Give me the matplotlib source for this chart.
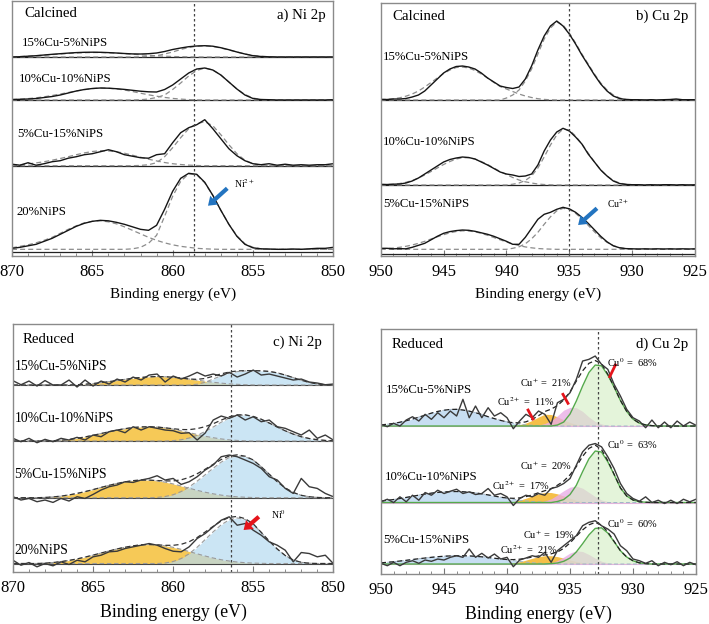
import matplotlib
matplotlib.use("Agg")
import matplotlib.pyplot as plt
import numpy as np
from matplotlib.ticker import MultipleLocator

plt.rcParams['font.family'] = ['Liberation Serif', 'DejaVu Serif']
plt.rcParams['mathtext.fontset'] = 'stix'

# energy grids, 0.5 eV steps from high to low binding energy
E_NI = np.arange(870, 849.9, -0.5)
E_CU = np.arange(950, 924.9, -0.5)

samples4 = ["15%Cu-5%NiPS", "10%Cu-10%NiPS", "5%Cu-15%NiPS", "20%NiPS"]
samples3 = ["15%Cu-5%NiPS", "10%Cu-10%NiPS", "5%Cu-15%NiPS"]

# ---- a) Ni 2p calcined: measured spectra (height above baseline) ----
a_exp1 = [0, 0.3, 0.8, 1.3, 2, 2.7, 3.3, 3.9, 4.4, 4.7,
          4.8, 4.7, 4.4, 4, 3.5, 3.1, 3, 3.3, 4, 5.5,
          7.5, 9, 10.3, 11, 11.3, 10.8, 9.3, 7.3, 5, 3,
          1.3, 0.5, 0.2, 0, 0, 0, 0, 0, 0, 0, 0]
a_exp2 = [0.5, 0.7, 1, 1.5, 2.5, 3.5, 5, 7, 9, 10.5,
          11.5, 12, 11.8, 11.3, 10.6, 9.7, 8.8, 8.2, 8, 10.5,
          15, 21, 27, 31, 32, 30, 25, 18, 11, 5,
          1.5, 0.5, 0.3, 0, 0, 0, 0, 0, 0, 0, 0.3]
a_exp3 = [1.5, 0.5, 3, 0.5, 2, 4, 5, 7.5, 9, 11,
          12, 14, 16, 14, 11, 9.5, 8, 7.5, 11, 12,
          23, 33, 38, 41, 46, 37, 27, 17, 10, 5,
          2, 1, 2, 0.5, 1.5, 0.5, 1, 0.5, 1, 1, 2]
a_exp4 = [1, 2, 3.5, 5, 8, 11, 15, 19, 23, 26,
          28, 29, 28.5, 27, 25, 22.5, 20, 19, 24, 40,
          58, 71, 76, 75, 67, 54, 39, 25, 13, 5,
          1.5, 0.5, 0.3, 0, 0, 0.3, 0, 0.5, 1, 1, 2]
# fitted components: (start energy, values)
a_sat1 = (870, [0.2, 0.5, 0.8, 1.3, 1.8, 2.4, 3, 3.5, 4, 4.3, 4.5, 4.5, 4.2, 3.8,
                3.3, 2.8, 2.2, 1.7, 1.2, 0.8, 0.5, 0.3, 0.1])
a_main1 = (862, [0.2, 0.6, 1.3, 3, 5, 7.5, 9.5, 10.8, 11.2, 10.5, 9, 7, 5, 3, 1.6, 0.7, 0.3])
a_sat2 = (870, [0.4, 0.8, 1.4, 2.2, 3.2, 4.5, 6, 7.5, 9, 10.3, 11.4, 12, 11.8, 11.1,
                10, 8.5, 6.8, 5.2, 3.8, 2.6, 1.6, 0.9, 0.4, 0.1])
a_main2 = (862, [0.3, 1, 2.5, 5, 10.5, 17, 24, 29.5, 32, 30, 25, 18, 11, 5.5, 2, 0.5])
a_sat3 = (870, [0.5, 1, 1.8, 2.8, 4, 5.5, 7.2, 9, 11, 12.8, 14.2, 15, 14.8, 14,
                12.5, 10.5, 8.5, 6.5, 4.8, 3.2, 2, 1.2, 0.6, 0.2])
a_main3 = (862, [0.3, 1, 3, 9, 18, 28, 37, 42, 44, 40, 31, 21, 12, 5.5, 2, 0.5])
a_sat4 = (870, [1.5, 3, 4.5, 6.5, 9, 12, 16, 20, 23.5, 26.5, 28, 28.5, 27.5, 25.5,
                22.5, 19, 15.5, 12, 9, 6.5, 4.5, 3, 2, 1, 0.5, 0.2])
a_main4 = (862.5, [0.5, 2, 6, 14, 33, 53, 68, 75.5, 74.5, 66.5, 54, 39, 25, 13.5, 5.5, 2, 0.5])

# ---- b) Cu 2p calcined ----
b_exp1 = [0.7, 0.5, 1, 1, 1.5, 3, 5, 9, 15, 21,
          27, 31, 33.5, 34, 33, 31, 27, 22, 18, 14,
          12.5, 11.5, 13, 21, 34, 50, 64, 74, 79, 74,
          66, 56, 45, 35, 25, 16, 9, 4, 1.5, 0.5,
          0.3, 0.3, 0, 0.3, 0, 0.3, 0.5, 1, 0.3, 0.3, 0.3]
b_exp2 = [0.7, 0.5, 0.8, 1, 2, 4, 7, 11, 15, 19,
          23, 25.5, 27, 28, 27.5, 26, 23, 20, 16.5, 13,
          11, 10, 8.5, 9, 11, 20, 34, 45, 53, 56.7,
          54, 48, 41, 31, 23, 15, 9, 4, 1.5, 0.6,
          0.3, 0.3, 0, 0.3, 0, 0.3, 0.3, 0, 0.3, 0, 0.3]
b_exp3 = [1, 1, 0.5, 0.7, 0.5, 2, 4, 6, 9.5, 13,
          16, 17.7, 18.7, 19.3, 19, 18, 16.5, 15, 13, 10.5,
          8, 5, 5, 12, 21, 30, 35, 37, 40, 42,
          40.5, 37, 32, 26, 19.5, 13, 7.5, 3.5, 1.5, 0.7,
          0.5, 0.3, 0.5, 0.3, 0.5, 0.3, 0.5, 0.3, 0.5, 0.3, 0.5]
b_sat1 = (950, [0.3, 0.6, 1.2, 2.2, 3.8, 6, 9, 13, 17.5, 22, 26.5, 30, 32.5, 33, 32,
                29.5, 26, 22, 17.5, 13.5, 11, 8.5, 6, 4, 2.5, 1.3, 0.6, 0.2])
b_main1 = (940, [2, 5, 10, 19, 31, 46, 61, 72, 78, 75, 67, 57, 46, 36, 26, 17, 10, 5, 2, 0.7, 0.2])
b_sat2 = (950, [0.2, 0.4, 0.8, 1.5, 2.7, 4.5, 7, 10, 13.5, 17, 20.5, 23.5, 26, 27.3, 27.3,
                26, 23.5, 20.5, 17, 13.5, 10.5, 7.5, 5, 3.2, 2, 1, 0.5, 0.2])
b_main2 = (939.5, [0.8, 2, 4.5, 9, 17, 28, 40, 50, 56, 55, 49, 41, 32, 23, 15, 9, 4.5, 2, 0.8, 0.3])
b_sat3 = (950, [0.5, 0.8, 1.3, 2, 3, 4.3, 6, 8, 10.3, 12.5, 14.6, 16.5, 17.8, 18.5, 18.3,
                17.5, 16, 14, 11.8, 9.5, 7.3, 5.3, 3.7, 2.4, 1.5, 0.8, 0.4, 0.2])
b_main3 = (939.5, [1, 2.5, 5.5, 10.5, 17, 25, 32.5, 38.5, 41, 40, 36, 30.5, 24, 17.5, 11.5,
                   7, 3.7, 1.7, 0.7, 0.3])

# ---- c) Ni 2p reduced ----
c_exp1 = [4.3, 0.3, 4, -1, 4.5, 0, 0, 5, -2, 5,
          -1, 4, 1, 6, 3, 8, 5, 10, 11, 3,
          9, 6, 9, 12.7, 9, 11, 9, 12.7, 8, 11,
          15, 10, 11, 9, 7, 5, 6, 3, 2, 0.3, 1]
c_exp2 = [2.7, -0.7, 2.7, -1.7, 1.7, -0.7, 2.7, 1, 3.7, 1,
          6, 4.3, 9.3, 11, 8.3, 14.3, 11, 14.3, 12.7, 11,
          10.3, 7.7, 8.3, 1, 8, 21, 25, 22.7, 26, 21,
          24.3, 19.3, 21, 14.3, 12.7, 9.3, 6, 11, 2.7, 6, 1]
c_exp3 = [1, -2.3, -0.7, -4, -2.3, -4.7, -0.7, -3.3, 1, -0.7,
          3.3, 7.7, 11, 12.7, 16, 15.3, 17.7, 19.3, 22, 17.7,
          19.3, 13.3, 16, 21, 27.7, 32.7, 41, 42.7, 41, 37.7,
          34.3, 29.3, 21, 17.7, 9.3, 4.3, 19.3, 11, 9.3, 4.3, 1]
c_exp4 = [3.3, -1.7, 1, -3.3, 0, -2.3, 1.7, -1, 3.3, 1.7,
          6.7, 8.3, 11.7, 12.3, 15, 16.7, 18.3, 20, 18.3, 15,
          12.3, 11.7, 16.7, 25, 30, 36.7, 43.3, 46.7, 38.3, 40,
          33.3, 28.3, 21.7, 18.3, 13.3, 1.7, 11, 10, 6.7, 8.3, 0]
c_yel1 = (866, [0.3, 0.8, 1.5, 2.4, 3.4, 4.6, 5.7, 6.8, 7.6, 8.2, 8.5, 8.3, 7.8, 7, 6,
                4.9, 3.8, 2.8, 1.9, 1.2, 0.7, 0.3, 0.1])
c_blu1 = (858.5, [0.8, 2.8, 6, 9.3, 11.8, 13.4, 14.1, 14.3, 14.2, 13.6, 12.2, 10, 7.4,
                  4.8, 2.6, 1.1, 0.3])
c_yel2 = (867.5, [0.3, 0.8, 1.6, 2.7, 4.1, 5.7, 7.5, 9.3, 11, 12.4, 13.5, 14.1, 14.3, 14,
                  13.2, 11.9, 10.2, 8.4, 6.6, 4.8, 3.3, 2.1, 1.2, 0.6, 0.2])
c_blu2 = (860, [0.4, 1.3, 3, 5.8, 9.6, 14, 18.8, 23, 25.6, 26, 24.6, 21.8, 18, 14, 10.2,
                6.9, 4.3, 2.5, 1.3, 0.6, 0.3])
c_yel3 = (868, [0.3, 0.8, 1.6, 2.8, 4.3, 6.1, 8.1, 10.3, 12.4, 14.3, 15.9, 17.1, 17.7,
                17.6, 16.9, 15.6, 13.8, 11.7, 9.5, 7.4, 5.5, 3.9, 2.6, 1.6, 0.9, 0.5, 0.2])
c_blu3 = (861, [0.3, 1.2, 3, 6.2, 10.8, 16.6, 23, 29.5, 35.6, 40.2, 42, 41, 37.6, 31, 23.5,
                16, 9.8, 5.2, 2.4, 1, 0.3])
c_yel4 = (868, [0.4, 1, 1.9, 3.1, 4.6, 6.4, 8.4, 10.5, 12.6, 14.6, 16.3, 17.7, 18.7, 19,
                18.7, 17.7, 16.2, 14.2, 12, 9.7, 7.5, 5.5, 3.8, 2.5, 1.5, 0.8, 0.4, 0.2])
c_blu4 = (860.5, [0.5, 2, 5, 9.8, 16.3, 24, 31.7, 38.7, 43.7, 45.6, 44, 39.3, 31, 22.5,
                  14.5, 8, 3.5, 1.2, 0.3])

# ---- d) Cu 2p reduced ----
d_exp1 = [1.7, -0.7, 2.7, 0, 6, 9.3, 5, 11.7, 6.7, 13.3,
          8.3, 15, 10, 26.7, 8.3, 20, 8.3, 18.3, 10, 13.3,
          8.3, -2.7, 5, 11.7, 8.3, 15, 11.7, 1.7, 23.3, 26.7,
          33.3, 46.7, 65, 66.7, 70, 61.7, 56.7, 41.7, 30, 16.7,
          8.3, 5, -1.7, 6, -1.7, 4, -1.7, 5, 0, 4, 0.7]
d_exp2 = [0.7, 3.3, 0, 5.7, 0.7, 7.3, 2.3, 10, 7.3, 12.3,
          9, 11.3, 13.3, 9, 10.7, 8, 9, 14, 7.3, 9,
          5.7, -3, 4, 7.3, 5.7, 9, 7.3, 14, 15.7, 19,
          24, 37.3, 50.7, 57.3, 59, 55.7, 45.7, 34, 19, 9,
          4, 1.3, 5.7, 0, 2.3, -1, 2.3, -1, 3.3, 0.7, 3.3]
d_exp3 = [0.7, -1.7, 1.7, -1.7, 1.7, 3.3, 0.7, 4, 2.7, 5,
          4, 6.7, 8.3, 6.7, 15, 6.7, 10.7, 6, 10, 5,
          6.7, -2.7, 4, 6, 8.3, 6.7, 11.7, 1.7, 13.3, 18.3,
          23.3, 28.3, 38.3, 41.7, 43.3, 38.3, 35, 30, 18.3, 13.3,
          5, 3.3, 0.7, 3.3, -1.7, 1.7, -0.7, 2.3, -1.7, 1.7, -0.7]
d_blu1 = (950, [1.1, 1.8, 2.6, 3.8, 5.3, 7, 8.9, 10.9, 12.9, 14.6, 15.8, 16.6, 16.7, 16,
                14.9, 13.3, 11.5, 9.3, 7.4, 5.6, 4.1, 2.9, 1.9, 1.2, 0.8, 0.4, 0.2])
d_yel1 = (939.5, [0.4, 1.3, 3, 5.6, 9, 11.8, 11.5, 9.2, 6.2, 3.5, 1.6, 0.6, 0.2])
d_pnk1 = (938, [0.3, 0.95, 2.5, 5.4, 10.2, 15.9, 18.7, 18.3, 14.6, 9, 4.5, 2.1, 0.75, 0.3])
d_grn1 = (936, [1, 4, 12, 25, 40, 53.5, 61, 60.2, 51, 38.9, 25.6, 14.6, 6.9, 2.9, 1.1, 0.4])
d_blu2 = (950, [1.5, 2.2, 3, 4, 5.1, 6.2, 7.4, 8.5, 9.4, 10.1, 10.6, 10.9, 11, 10.8, 10.3,
                9.6, 8.7, 7.6, 6.5, 5.3, 4.2, 3.2, 2.3, 1.6, 1, 0.6, 0.3])
d_yel2 = (940, [0.3, 1, 2.3, 4.3, 6.6, 8.7, 10, 10, 8.7, 6.6, 4.3, 2.3, 1, 0.3])
d_pnk2 = (937.5, [0.5, 1.5, 3.7, 7.6, 11.8, 15.4, 16.4, 14.3, 10.1, 5.9, 2.5, 1, 0.3])
d_grn2 = (936, [1, 3, 8, 17.2, 30.9, 43.7, 51.5, 50.5, 40.7, 27.9, 14.6, 6.5, 2.5, 0.8, 0.3])
d_blu3 = (950, [1.2, 1.7, 2.3, 3, 3.7, 4.5, 5.3, 6, 6.7, 7.3, 7.8, 8.1, 8.3, 8.3, 8.1,
                7.7, 7.2, 6.5, 5.8, 5, 4.2, 3.4, 2.6, 1.9, 1.3, 0.8, 0.5, 0.3, 0.1])
d_yel3 = (940, [0.3, 1, 2.2, 3.9, 5.7, 7.3, 8.3, 8.3, 7.4, 5.9, 4.1, 2.5, 1.3, 0.6, 0.2])
d_pnk3 = (937, [0.3, 1.2, 3.5, 7, 11, 13.2, 12.5, 9.5, 5.8, 2.8, 1.1, 0.3])
d_grn3 = (936.5, [0.4, 1, 2.7, 6, 12.1, 20.3, 29.1, 35.6, 36.2, 31, 22.3, 13.3, 7, 3.2,
                  1.2, 0.4])

cu0_pct = [68, 63, 60]
cu1_pct = [21, 20, 19]
cu2_pct = [11, 17, 21]

# reference lines (eV)
ref_a, ref_b, ref_c, ref_d = 858.7, 935.0, 856.4, 932.75


def on_grid(grid, comp):
    start, vals = comp
    out = np.zeros(len(grid))
    i = int(round((grid[0] - start) / 0.5))
    out[i:i + len(vals)] = vals
    return out


def setup(ax, xlim, ylim, lsize, lpad):
    ax.set_xlim(*xlim)
    ax.set_ylim(*ylim)
    ax.set_yticks([])
    ax.xaxis.set_major_locator(MultipleLocator(5))
    ax.xaxis.set_minor_locator(MultipleLocator(1))
    ax.tick_params(axis='x', which='both', direction='in', color='#777',
                   labelsize=12, pad=6)
    ax.tick_params(axis='x', which='major', length=4)
    ax.tick_params(axis='x', which='minor', length=2.5)
    for s in ax.spines.values():
        s.set_color('#8a8a8a')
        s.set_linewidth(1)
    ax.set_xlabel("Binding energy (eV)", fontsize=lsize, labelpad=lpad)


fig = plt.figure(figsize=(7.09, 6.24), dpi=100)
ax_a = fig.add_axes([0.0169, 0.5897, 0.4532, 0.4087])
ax_b = fig.add_axes([0.537, 0.5902, 0.4433, 0.4045])
ax_c = fig.add_axes([0.0183, 0.0833, 0.4518, 0.3974])
ax_d = fig.add_axes([0.5374, 0.0801, 0.4443, 0.3926])

dash = (0, (4, 2.5))
arrow_kw = dict(width=3, headwidth=8.5, headlength=6, shrink=0, lw=0)

# ---------------- a ----------------
ax = ax_a
setup(ax, (870, 850), (0, 255), 11, 5.5)
offs = [199, 156, 90.3, 6.7]
for y in [199, 156, 90.3, 3.7]:
    ax.axhline(y, color='#222', lw=0.9)
for off, exp, sat, main in zip(offs, [a_exp1, a_exp2, a_exp3, a_exp4],
                               [a_sat1, a_sat2, a_sat3, a_sat4],
                               [a_main1, a_main2, a_main3, a_main4]):
    ax.plot(E_NI, off + on_grid(E_NI, sat), ls=dash, color='#8c8c8c', lw=0.9)
    ax.plot(E_NI, off + on_grid(E_NI, main), ls=dash, color='#8c8c8c', lw=0.9)
    ax.plot(E_NI, off + np.array(exp), color='#151515', lw=1.0)
ax.axvline(ref_a, color='#444', ls=(0, (2, 2)), lw=0.9)
for name, (x, y) in zip(samples4, [(869.4, 212.7), (869.6, 177), (869.7, 121.7), (869.7, 43.7)]):
    ax.text(x, y, name, fontsize=9.2, ha='left', va='center')
ax.text(869.2, 242.7, "Calcined", fontsize=10.7, va='center')
ax.text(850.5, 241, "a) Ni 2p", fontsize=10.7, ha='right', va='center')
ax.annotate("", xy=(857.8, 50.3), xytext=(856.6, 67.7),
            arrowprops=dict(facecolor='#2374C0', **arrow_kw))
ax.text(856.2, 72.7, "Ni$^{2+}$", fontsize=7, va='center')

# ---------------- b ----------------
ax = ax_b
setup(ax, (950, 925), (0, 252.4), 11, 5.5)
offs = [155.7, 70.7, 6.4]
for y in [155.7, 70.7, 1.5]:
    ax.axhline(y, color='#222', lw=0.9)
for off, exp, sat, main in zip(offs, [b_exp1, b_exp2, b_exp3],
                               [b_sat1, b_sat2, b_sat3],
                               [b_main1, b_main2, b_main3]):
    ax.plot(E_CU, off + on_grid(E_CU, sat), ls=dash, color='#8c8c8c', lw=0.9)
    ax.plot(E_CU, off + on_grid(E_CU, main), ls=dash, color='#8c8c8c', lw=0.9)
    ax.plot(E_CU, off + np.array(exp), color='#151515', lw=1.0)
ax.axvline(ref_b, color='#444', ls=(0, (2, 2)), lw=0.9)
for name, (x, y) in zip(samples3, [(949.8, 199), (949.8, 114), (949.8, 51.7)]):
    ax.text(x, y, name, fontsize=9.2, ha='left', va='center')
ax.text(949.1, 239, "Calcined", fontsize=10.7, va='center')
ax.text(925.55, 239, "b) Cu 2p", fontsize=10.7, ha='right', va='center')
ax.annotate("", xy=(934.3, 30.7), xytext=(932.8, 47.4),
            arrowprops=dict(facecolor='#2374C0', **arrow_kw))
ax.text(932.0, 52.4, "Cu$^{2+}$", fontsize=7, va='center')

# ---------------- c ----------------
ax = ax_c
setup(ax, (870, 850), (0, 248), 12.8, 5)
offs = [187, 131, 74.3, 8.5]
for off, exp, yel, blu in zip(offs, [c_exp1, c_exp2, c_exp3, c_exp4],
                              [c_yel1, c_yel2, c_yel3, c_yel4],
                              [c_blu1, c_blu2, c_blu3, c_blu4]):
    y1 = on_grid(E_NI, yel)
    y2 = on_grid(E_NI, blu)
    ax.axhline(off, color='#444', lw=0.8)
    ax.fill_between(E_NI, off, off + y1, color='#F5C445', alpha=0.9, lw=0)
    ax.fill_between(E_NI, off, off + y2, color='#B5DAF0', alpha=0.7, lw=0)
    ax.plot(E_NI, off + y1, ls=dash, color='#9a9a9a', lw=0.8)
    ax.plot(E_NI, off + y2, ls=dash, color='#9a9a9a', lw=0.8)
    ax.plot(E_NI, off + y1 + y2, ls=dash, color='#333', lw=0.9)
    ax.plot(E_NI, off + np.array(exp), color='#3a3a3a', lw=1.0)
ax.axvline(ref_c, color='#444', ls=(0, (2, 2)), lw=0.9)
for name, (x, y) in zip(samples4, [(869.9, 205.3), (869.9, 153.7), (869.9, 97.7), (869.9, 22)]):
    ax.text(x, y, name, fontsize=9.8, ha='left', va='center')
ax.text(869.4, 232.7, "Reduced", fontsize=10.7, va='center')
ax.text(850.7, 229.3, "c) Ni 2p", fontsize=10.7, ha='right', va='center')
ax.annotate("", xy=(855.6, 42), xytext=(854.65, 55.3),
            arrowprops=dict(facecolor='#E5141B', **arrow_kw))
ax.text(853.9, 57.7, "Ni$^{0}$", fontsize=7, va='center')

# ---------------- d ----------------
ax = ax_d
setup(ax, (950, 925), (0, 245), 12.8, 5)
offs = [148, 71.5, 10]
comps = [(d_blu1, d_yel1, d_pnk1, d_grn1), (d_blu2, d_yel2, d_pnk2, d_grn2),
         (d_blu3, d_yel3, d_pnk3, d_grn3)]
for off, exp, (blu, yel, pnk, grn) in zip(offs, [d_exp1, d_exp2, d_exp3], comps):
    yb, yy, yp, yg = [on_grid(E_CU, c) for c in (blu, yel, pnk, grn)]
    ax.axhline(off, color='#E2B4DC', lw=0.8)
    ax.fill_between(E_CU, off, off + yb, color='#C4DDF2', alpha=0.95, lw=0)
    ax.fill_between(E_CU, off, off + yy, color='#F5BC3E', alpha=0.95, lw=0)
    ax.fill_between(E_CU, off, off + yp, color='#E9AEE6', alpha=0.8, lw=0)
    ax.fill_between(E_CU, off, off + yg, color='#D3EDC2', alpha=0.6, lw=0)
    ax.plot(E_CU, off + yb, color='#9fb4c8', lw=0.7, ls=dash)
    ax.plot(E_CU, off + yg, color='#55AA4C', lw=1.0)
    ax.plot(E_CU, off + yb + yy + yp + yg, ls=dash, color='#222', lw=0.9)
    ax.plot(E_CU, off + np.array(exp), color='#3a3a3a', lw=1.0)
ax.axvline(ref_d, color='#444', ls=(0, (2, 2)), lw=0.9)
for name, (x, y) in zip(samples3, [(949.6, 184), (949.7, 97.3), (949.8, 34)]):
    ax.text(x, y, name, fontsize=9.2, ha='left', va='center')
ax.text(949.15, 230, "Reduced", fontsize=10.7, va='center')
ax.text(925.6, 230, "d) Cu 2p", fontsize=10.7, ha='right', va='center')
pos0 = [(932.1, 211.7), (932.1, 129), (932.1, 50.7)]
pos1 = [(938.97, 191.3), (938.97, 108), (938.7, 39)]
pos2 = [(940.8, 172.3), (941.2, 88.3), (940.55, 24)]
for p0, p1, p2, v0, v1, v2 in zip(pos0, pos1, pos2, cu0_pct, cu1_pct, cu2_pct):
    ax.text(*p0, "Cu$^{0}$ =  %d%%" % v0, fontsize=7.5, va='center')
    ax.text(*p1, "Cu$^{+}$ =  %d%%" % v1, fontsize=7.5, va='center')
    ax.text(*p2, "Cu$^{2+}$ =  %d%%" % v2, fontsize=7.5, va='center')
for (x1, y1), (x2, y2) in [((938.33, 164), (937.94, 155)), ((935.56, 179.7), (935.16, 170.7)),
                           ((931.4, 209), (931.85, 197.3))]:
    ax.plot([x1, x2], [y1, y2], color='#E5141B', lw=2)

fig.savefig("out.png", dpi=100)
